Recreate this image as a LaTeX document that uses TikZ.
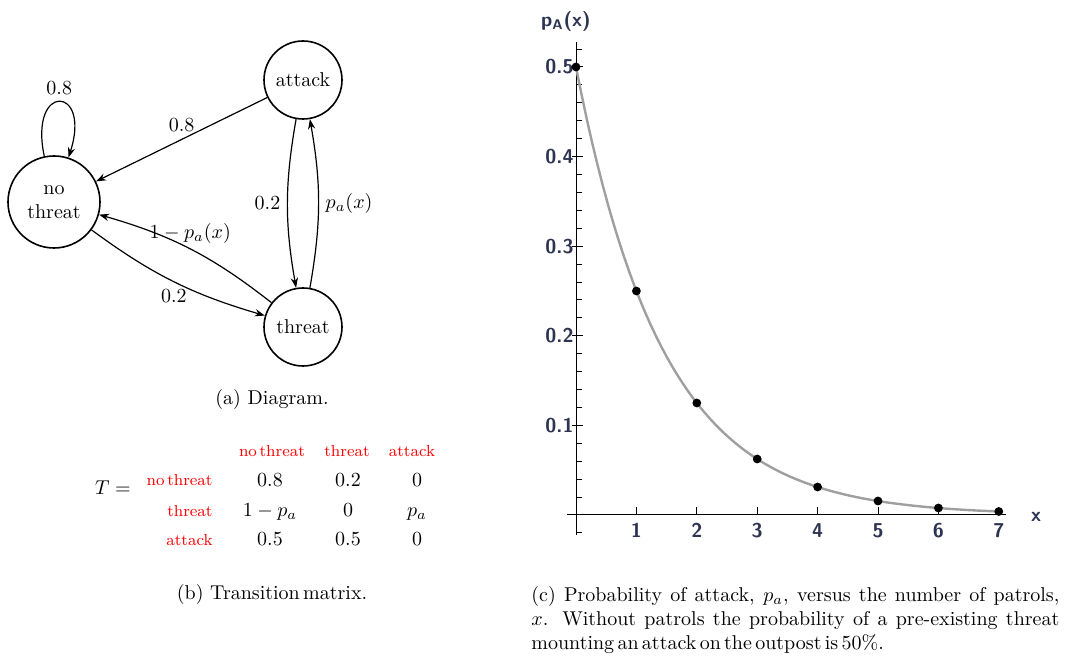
\documentclass[tikz,border=0pt]{standalone}
\usepackage{amsmath}
\usepackage{tikz}
\usepackage{xcolor}
\usetikzlibrary{arrows.meta}
\definecolor{plotink}{RGB}{45,52,82}

\begin{document}
\begin{tikzpicture}[x=0.5pt, y=0.5pt,
    state/.style={circle, draw, line width=0.8pt, minimum size=39pt, inner sep=1pt, align=center},
    trans/.style={-{Stealth[length=5pt, width=3.6pt]}, line width=0.6pt},
    collab/.style={text=red, font=\footnotesize, anchor=base},
    rowlab/.style={text=red, font=\footnotesize, anchor=base east, inner sep=0pt},
    entry/.style={anchor=base},
    axis/.style={line width=0.5pt},
    ticklab/.style={font=\sffamily\bfseries, text=plotink, inner sep=0pt},
    dot/.style={circle, fill, inner sep=0pt, minimum size=4.4pt},
    curve/.style={gray!75, line width=1.2pt}]
    \useasboundingbox (0,0) rectangle (1066,-656);
    % States
    \node[state] (attack) at (303,-80) {attack};
    \node[state, minimum size=46pt] (nothreat) at (54,-202) {no\\threat};
    \node[state] (threat) at (303,-327) {threat};
    % Transitions
    \draw[trans] (nothreat) to[out=102, in=72, distance=38pt] node[midway, above] (lloop) {0.8} (nothreat);
    \draw[trans] (attack) -- (nothreat) node[midway, above] (lan) {0.8};
    \draw[trans] (nothreat) to[bend right=10] node[midway, below] (lnt) {0.2} (threat);
    \draw[trans] (threat) to[bend right=11] node[midway, above=-1pt] (ltn) {$1-p_a(x)$} (nothreat);
    \draw[trans] (attack) to[bend right=10] node[midway, left] (lat) {0.2} (threat);
    \draw[trans] (threat) to[bend right=10] node[midway, right] (lta) {$p_a(x)$} (attack);
    \node[anchor=base] (capa) at (272,-405) {(a) Diagram.};
    % Transition matrix
    \node[anchor=base] (T) at (113,-495) {$T=$};
    \node[collab] (c1) at (272,-457) {no\,threat};
    \node[collab] (c2) at (347,-457) {threat};
    \node[collab] (c3) at (412,-457) {attack};
    \node[rowlab] (r1) at (213,-486) {no\,threat};
    \node[rowlab] (r2) at (213,-517) {threat};
    \node[rowlab] (r3) at (213,-546) {attack};
    \node[entry] (m11) at (270,-487) {0.8};
    \node[entry] (m12) at (348,-487) {0.2};
    \node[entry] (m13) at (417,-487) {0};
    \node[entry] (m21) at (270,-517) {$1-p_a$};
    \node[entry] (m22) at (348,-517) {0};
    \node[entry] (m23) at (417,-517) {$p_a$};
    \node[entry] (m31) at (270,-546) {0.5};
    \node[entry] (m32) at (348,-546) {0.5};
    \node[entry] (m33) at (417,-546) {0};
    \node[anchor=base] (capb) at (272,-600) {(b) Transition\,matrix.};
    % Axes
    \draw[axis] (576,-535) -- (576,-42);
    \draw[axis] (567,-515) -- (1006,-515);
    \foreach \k in {-1,...,26}
        \draw[axis] (576,{-515+17.92*\k}) -- ++(6,0);
    \foreach \v in {1,...,5} {
        \draw[axis] (572,{-515+89.6*\v}) -- ++(11,0);
        \node[ticklab, anchor=east] (y\v) at (574,{-515+89.6*\v}) {0.\v};
    }
    \foreach \n in {1,...,7} {
        \draw[axis] ({576+60.4*\n},-515) -- ++(0,8);
        \node[ticklab, anchor=north] (x\n) at ({576+60.4*\n},-523) {\n};
    }
    \node[ticklab] (ylab) at (566,-22) {p\textsubscript{A}(x)};
    \node[ticklab] (xlab) at (1036,-517) {x};
    % Attack probability
    \draw[curve] plot[domain=0:7, samples=80] ({576+60.4*\x},{-515+448*pow(0.5,\x)});
    \foreach \n in {0,...,7}
        \node[dot] (p\n) at ({576+60.4*\n},{-515+448*pow(0.5,\n)}) {};
    % Caption
    \node[anchor=base west, inner sep=0pt] (capc1) at (531,-602)
        {\makebox[264pt][s]{(c) Probability of attack, $p_a$, versus the number of patrols,}};
    \node[anchor=base west, inner sep=0pt] (capc2) at (531,-626)
        {\makebox[264pt][s]{$x$. Without patrols the probability of a pre-existing threat}};
    \node[anchor=base west, inner sep=0pt] (capc3) at (531,-650)
        {mounting\,an\,attack\,on\,the\,outpost\,is\,50\%.};
\end{tikzpicture}
\end{document}
